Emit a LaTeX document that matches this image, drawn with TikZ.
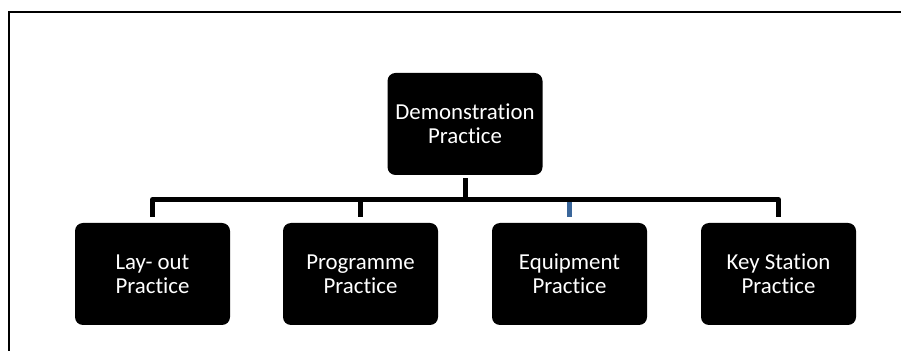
\documentclass[tikz,border=0pt]{standalone}
\usepackage{fontspec}
\setmainfont{Carlito}[Ligatures=NoCommon]
\definecolor{stubblue}{RGB}{58,102,154}

\begin{document}
\begin{tikzpicture}[
    practice/.style={fill=black, text=white, rounded corners=0.16cm, minimum width=3.1cm, minimum height=2.04cm, align=center, inner sep=0pt, font=\fontsize{13pt}{13.5pt}\selectfont},
    link/.style={line width=0.1cm, line join=round}
  ]
            \useasboundingbox (0, 0) rectangle (18.02, 7.02);
            \draw[line width=0.04cm] (0.18, 0) -- (0.18, 6.78) -- (18.02, 6.78);
            \node[practice] (demo) at (9.30, 4.54) {Demonstration\\Practice};
            \node[practice] (layout) at (3.05, 1.54) {Lay- out\\Practice};
            \node[practice] (prog) at (7.21, 1.54) {Programme\\Practice};
            \node[practice] (equip) at (11.39, 1.54) {Equipment\\Practice};
            \node[practice] (keyst) at (15.57, 1.54) {Key Station\\Practice};
            \coordinate (bar) at (0, 3.03);
            \draw[link] ([yshift=-0.06cm]demo.south) -- (demo.south |- bar);
            \draw[link] ([yshift=0.12cm]layout.north) -- (layout.north |- bar) -- (keyst.north |- bar) -- ([yshift=0.12cm]keyst.north);
            \draw[link] (prog.north |- bar) -- ([yshift=0.12cm]prog.north);
            \draw[link, stubblue] ([yshift=-0.05cm]equip.north |- bar) -- ([yshift=0.12cm]equip.north);
          \end{tikzpicture}
\end{document}
